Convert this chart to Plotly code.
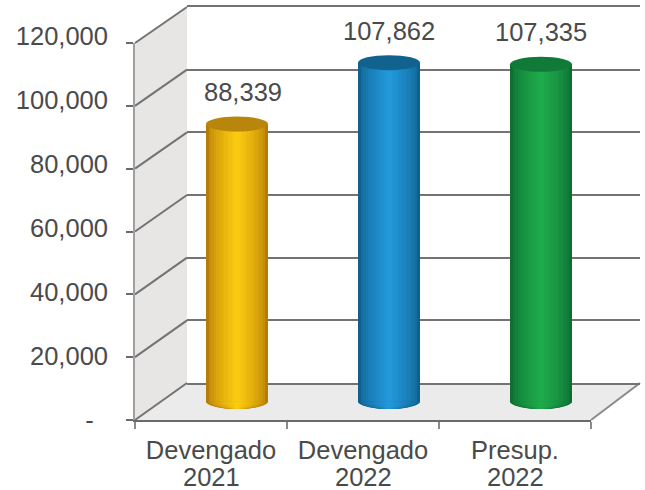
import numpy as np
import plotly.graph_objects as go

# ---- data ----
category_line1 = ["Devengado", "Devengado", "Presup."]
category_line2 = ["2021", "2022", "2022"]
category_pos = [0, 1, 2]
values = [88339, 107862, 107335]
value_labels = ["88,339", "107,862", "107,335"]
y_ticks = [0, 20000, 40000, 60000, 80000, 100000, 120000]
y_tick_labels = ["-\u00a0\u00a0", "20,000", "40,000", "60,000", "80,000", "100,000", "120,000"]
y_max = 120000

# ---- colours: edge, centre of each cylinder ----
edge_colors = [(182, 124, 8), (16, 96, 142), (14, 110, 52)]
centre_colors = [(250, 202, 16), (34, 152, 218), (30, 170, 74)]
cap_colors = ["#b8860b", "#11628f", "#117a39"]
text_color = "#4a4a4a"
grid_color = "#737373"
FS = 25.5

# ---- geometry (pixels) ----
W, H = 645, 490
px_x = lambda p: p / W
px_y = lambda p: 1 - p / H
F_L, F_R, F_T, F_B = 135, 591, 43, 420      # front plane
B_L, B_R, B_T, B_B = 187, 640, 7, 383       # back plane
LBL_T, LBL_B = 36, 420                      # span of the value-axis labels
BAR_DX, BAR_BASE = 26, 401.5                # bar plane
PX_PER_VAL = (F_B - F_T) / y_max
BELOW = 6000                                # room under the bar base for its rounded end
CAP_RY = 7.5 / PX_PER_VAL
BAR_W = 62 / ((F_R - F_L) / 3)

fig = go.Figure()

N = 12
shapes = []
# walls
shapes.append(dict(type="path", xref="paper", yref="paper", layer="below", line_width=0, fillcolor="#e8e5e5",
                   path=f"M{px_x(F_L)},{px_y(F_B)} L{px_x(B_L)},{px_y(B_B)} L{px_x(B_L)},{px_y(B_T)} L{px_x(F_L)},{px_y(F_T)} Z"))
shapes.append(dict(type="path", xref="paper", yref="paper", layer="below", line_width=0, fillcolor="#ebebeb",
                   path=f"M{px_x(F_L)},{px_y(F_B)} L{px_x(B_L)},{px_y(B_B)} L{px_x(B_R)},{px_y(B_B)} L{px_x(F_R)},{px_y(F_B)} Z"))
# slanted wall lines
for v in y_ticks:
    f = F_B - (F_B - F_T) * v / y_max
    b = B_B - (B_B - B_T) * v / y_max
    shapes.append(dict(type="line", xref="paper", yref="paper", layer="below",
                       x0=px_x(F_L), y0=px_y(f), x1=px_x(B_L), y1=px_y(b),
                       line=dict(color=grid_color, width=2)))
shapes.append(dict(type="line", xref="paper", yref="paper", layer="below",
                   x0=px_x(F_R), y0=px_y(F_B), x1=px_x(B_R), y1=px_y(B_B),
                   line=dict(color="#8a8a8a", width=2)))


def mix(a, b, t):
    return "rgb(%d,%d,%d)" % tuple(a[k] + (b[k] - a[k]) * t for k in range(3))


for i in range(N):
    t = i / (N - 1)
    width = BAR_W * (1 - i / N)
    shade = t ** 0.6
    cols = [mix(edge_colors[k], centre_colors[k], shade) for k in range(3)]
    fig.add_trace(go.Bar(x=category_pos, y=values, width=width, marker=dict(color=cols, line_width=0),
                         xaxis="x3", yaxis="y3", hoverinfo="skip", showlegend=False))
    for k in range(3):
        th = np.linspace(0, np.pi, 25)
        xs = k + width / 2 * np.cos(th)
        ys = -CAP_RY * np.sin(th)
        path = "M" + " L".join(f"{a:.4f},{b:.1f}" for a, b in zip(xs, ys)) + " Z"
        shapes.append(dict(type="path", xref="x3", yref="y3", layer="above", line_width=0,
                           fillcolor=cols[k], path=path))

# top caps
for k, v in enumerate(values):
    shapes.append(dict(type="circle", xref="x3", yref="y3", layer="above", line_width=0,
                       fillcolor=cap_colors[k], x0=k - BAR_W / 2, x1=k + BAR_W / 2,
                       y0=v - CAP_RY, y1=v + CAP_RY))

# invisible anchors so every axis pair exists
fig.add_trace(go.Scatter(x=[0], y=[0], mode="none", xaxis="x", yaxis="y", hoverinfo="skip", showlegend=False))
fig.add_trace(go.Scatter(x=category_pos, y=[0, 0, 0], mode="none", xaxis="x2", yaxis="y2", hoverinfo="skip", showlegend=False))
fig.add_trace(go.Scatter(x=category_pos, y=[0, 0, 0], mode="none", xaxis="x2", yaxis="y4", hoverinfo="skip", showlegend=False))

annotations = []
label_dx = [6, 0, 0]
label_font = dict(family="Liberation Sans", size=FS, color=text_color)
for k, v in enumerate(values):
    annotations.append(dict(x=k, y=v, xref="x3", yref="y3", text=value_labels[k], showarrow=False,
                            xshift=label_dx[k], yshift=32, font=label_font))
for k, txt in enumerate(category_line2):
    annotations.append(dict(x=k, xref="x2", y=px_y(477), yref="paper", yanchor="middle", text=txt,
                            showarrow=False, font=label_font))

bar_bottom_px = BAR_BASE + BELOW * PX_PER_VAL
bar_top_px = BAR_BASE - y_max * PX_PER_VAL

fig.update_layout(
    width=W, height=H, margin=dict(l=0, r=0, t=0, b=0, pad=0, autoexpand=False),
    paper_bgcolor="white", plot_bgcolor="rgba(0,0,0,0)",
    barmode="overlay", bargap=0, showlegend=False, shapes=shapes, annotations=annotations,
    font=dict(family="Liberation Sans", size=FS, color=text_color),
    # back wall
    xaxis=dict(domain=[px_x(B_L), px_x(B_R)], range=[0, 1], showticklabels=False, ticks="", showgrid=False,
               zeroline=False, showline=True, mirror=True, linecolor=grid_color, linewidth=2, anchor="y", automargin=False),
    yaxis=dict(domain=[px_y(B_B), px_y(B_T)], range=[0, y_max], tickvals=y_ticks, showgrid=True, gridcolor=grid_color,
               gridwidth=2, showticklabels=False, ticks="", zeroline=False, showline=False, anchor="x", automargin=False),
    # front axes
    xaxis2=dict(domain=[px_x(F_L), px_x(F_R)], range=[-0.5, 2.5], tickvals=category_pos, ticktext=category_line1,
                ticks="", minor=dict(tickvals=[-0.5, 0.5, 1.5, 2.5], ticks="outside", ticklen=7, tickcolor="#8a8a8a",
                                     tickwidth=1.5, showgrid=False),
                ticklabelstandoff=6,
                showline=True, linecolor="#6a6a6a", linewidth=2, showgrid=False, zeroline=False, anchor="y2",
                automargin=False, tickfont=dict(size=FS, color=text_color)),
    yaxis2=dict(domain=[px_y(F_B), px_y(F_T)], range=[0, y_max], tickvals=y_ticks, showticklabels=False,
                ticks="outside", ticklen=7, tickcolor="#6a6a6a", tickwidth=1.5, showline=True, linecolor="#a0a0a0",
                linewidth=1.5, showgrid=False, zeroline=False, anchor="x2", automargin=False),
    yaxis4=dict(domain=[px_y(LBL_B), px_y(LBL_T)], range=[0, y_max], tickvals=y_ticks, ticktext=y_tick_labels,
                ticks="", showline=False, showgrid=False, zeroline=False, anchor="x2", ticklabelstandoff=26,
                automargin=False, tickfont=dict(size=FS, color=text_color)),
    # bar plane
    xaxis3=dict(domain=[px_x(F_L + BAR_DX), px_x(F_R + BAR_DX)], range=[-0.5, 2.5], visible=False, anchor="y3",
                automargin=False),
    yaxis3=dict(domain=[px_y(bar_bottom_px), px_y(bar_top_px)], range=[-BELOW, y_max], visible=False, anchor="x3",
                automargin=False),
)

fig.write_html("out.html", post_script="document.body.style.margin='0';", config={"displayModeBar": False})
